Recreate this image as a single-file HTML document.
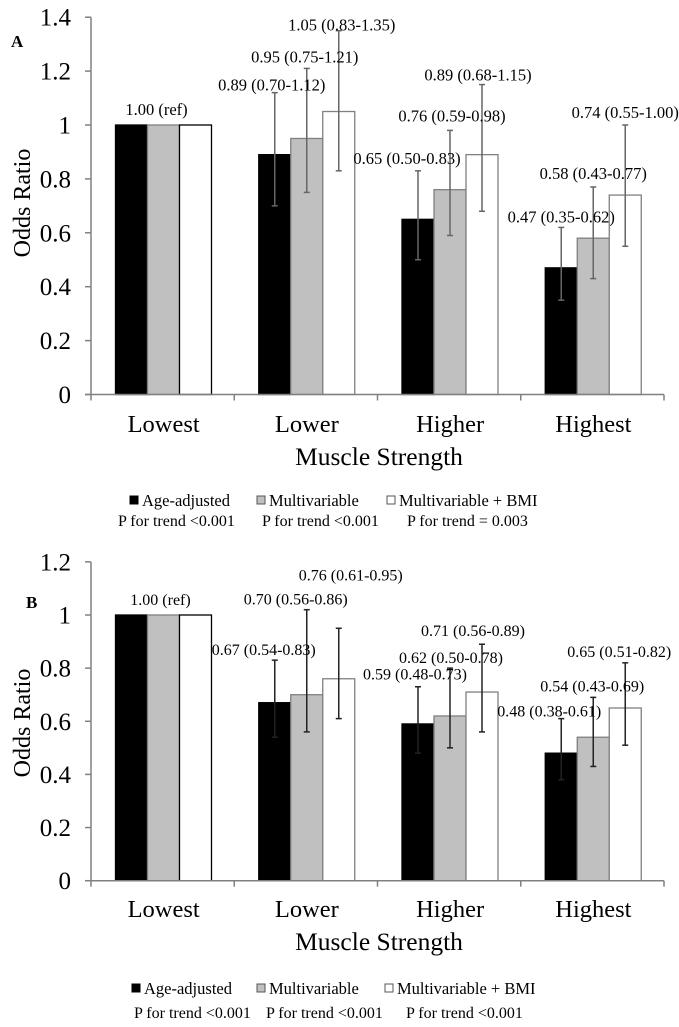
<!DOCTYPE html>
<html><head><meta charset="utf-8">
<style>
html,body{margin:0;padding:0;background:#fff;}
svg{display:block;font-family:"Liberation Serif","Times New Roman",serif;}
</style></head>
<body>
<svg id="chart" width="679" height="1027" viewBox="0 0 679 1027" xmlns="http://www.w3.org/2000/svg"></svg>
<script>
// ---- shared data ----
const categories = ["Lowest", "Lower", "Higher", "Highest"];
const seriesNames = ["Age-adjusted", "Multivariable", "Multivariable + BMI"];

// Panel A
const aAge = [1.00, 0.89, 0.65, 0.47];
const aMulti = [1.00, 0.95, 0.76, 0.58];
const aBmi = [1.00, 1.05, 0.89, 0.74];
const aAgeLo = [null, 0.70, 0.50, 0.35];
const aAgeHi = [null, 1.12, 0.83, 0.62];
const aMultiLo = [null, 0.75, 0.59, 0.43];
const aMultiHi = [null, 1.21, 0.98, 0.77];
const aBmiLo = [null, 0.83, 0.68, 0.55];
const aBmiHi = [null, 1.35, 1.15, 1.00];
const aTicks = [0, 0.2, 0.4, 0.6, 0.8, 1, 1.2, 1.4];
const aTickLabels = ["0", "0.2", "0.4", "0.6", "0.8", "1", "1.2", "1.4"];
const aLabels = [
  ["1.00 (ref)", "0.89 (0.70-1.12)", "0.65 (0.50-0.83)", "0.47 (0.35-0.62)"],
  [null, "0.95 (0.75-1.21)", "0.76 (0.59-0.98)", "0.58 (0.43-0.77)"],
  [null, "1.05 (0.83-1.35)", "0.89 (0.68-1.15)", "0.74 (0.55-1.00)"]
];
const aTrend = ["P for trend <0.001", "P for trend <0.001", "P for trend = 0.003"];

// Panel B
const bAge = [1.00, 0.67, 0.59, 0.48];
const bMulti = [1.00, 0.70, 0.62, 0.54];
const bBmi = [1.00, 0.76, 0.71, 0.65];
const bAgeLo = [null, 0.54, 0.48, 0.38];
const bAgeHi = [null, 0.83, 0.73, 0.61];
const bMultiLo = [null, 0.56, 0.50, 0.43];
const bMultiHi = [null, 1.02, 0.80, 0.69];
const bBmiLo = [null, 0.61, 0.56, 0.51];
const bBmiHi = [null, 0.95, 0.89, 0.82];
const bTicks = [0, 0.2, 0.4, 0.6, 0.8, 1, 1.2];
const bTickLabels = ["0", "0.2", "0.4", "0.6", "0.8", "1", "1.2"];
const bLabels = [
  ["1.00 (ref)", "0.67 (0.54-0.83)", "0.59 (0.48-0.73)", "0.48 (0.38-0.61)"],
  [null, "0.70 (0.56-0.86)", "0.62 (0.50-0.78)", "0.54 (0.43-0.69)"],
  [null, "0.76 (0.61-0.95)", "0.71 (0.56-0.89)", "0.65 (0.51-0.82)"]
];
const bTrend = ["P for trend <0.001", "P for trend <0.001", "P for trend <0.001"];

const NS = "http://www.w3.org/2000/svg";
const svg = document.getElementById("chart");
function mk(tag, attrs, parent, text) {
  const e = document.createElementNS(NS, tag);
  for (const k in attrs) e.setAttribute(k, attrs[k]);
  if (text !== undefined) e.textContent = text;
  (parent || svg).appendChild(e);
  return e;
}

function panel(cfg) {
  const g = mk("g", {});
  
  
  const x0 = 91, catW = 143.25, barW = 32;
  const y = v => cfg.y0 - v * cfg.unit;
  const barX = (ci, si) => x0 + ci * catW + 24.5 + si * barW;
  const values = [cfg.age, cfg.multi, cfg.bmi];
  const los = [cfg.ageLo, cfg.multiLo, cfg.bmiLo];
  const his = [cfg.ageHi, cfg.multiHi, cfg.bmiHi];
  const fills = ["#000", "#c0c0c0", "#fff"];
  const strokes = ["#000", "#808080", "#808080"];
  const sKeys = ["age-adjusted", "multivariable", "multivariable-bmi"];

  for (let s = 0; s < 3; s++) {
    for (let c = 0; c < categories.length; c++) {
      const v = values[s][c];
      const r = mk("rect", {x: barX(c, s), y: y(v), width: barW, height: y(0) - y(v),
        fill: fills[s], stroke: (c === 0 && s === 2) ? "#000" : strokes[s], "stroke-width": 1.3}, g);
      
      
    }
  }
  for (let s = 0; s < 3; s++) {
    for (let c = 0; c < categories.length; c++) {
      if (los[s][c] === null) continue;
      const cx = barX(c, s) + barW / 2;
      const eg = mk("g", {stroke: cfg.errColor, "stroke-width": 1.5}, g);
      
      
      mk("line", {x1: cx, x2: cx, y1: y(los[s][c]), y2: y(his[s][c])}, eg);
      mk("line", {x1: cx - 3, x2: cx + 3, y1: y(los[s][c]), y2: y(los[s][c])}, eg);
      mk("line", {x1: cx - 3, x2: cx + 3, y1: y(his[s][c]), y2: y(his[s][c])}, eg);
    }
  }
  for (let s = 0; s < 3; s++) {
    for (let c = 0; c < categories.length; c++) {
      const txt = cfg.labels[s][c];
      if (!txt) continue;
      const top = his[s][c] === null ? values[s][c] : his[s][c];
      const sIdx = c === 0 ? 1 : s;
      const cx = barX(c, sIdx) + barW / 2 + cfg.ldx[s][c];
      const t = mk("text", {x: cx, y: y(top) + cfg.ldy[s][c], "text-anchor": "middle",
        "font-size": cfg.lfs, fill: "#000"}, g, txt);
      
      
    }
  }
  const yAxis = mk("g", {}, g);
  
  
  const yTop = y(cfg.ticks[cfg.ticks.length - 1]);
  mk("line", {x1: x0, x2: x0, y1: yTop, y2: y(0), stroke: "#808080", "stroke-width": 1.5}, yAxis);
  cfg.ticks.forEach((tv, i) => {
    mk("line", {x1: x0 - 6, x2: x0, y1: y(tv), y2: y(tv), stroke: "#808080", "stroke-width": 1.5}, yAxis);
    const t = mk("text", {x: 71, y: y(tv) + 8.5, "text-anchor": "end", "font-size": 25}, yAxis, cfg.tickLabels[i]);
    
    
  });
  const yt = mk("text", {x: 0, y: 0, "text-anchor": "middle", "font-size": 24,
    transform: "translate(30," + cfg.yTitleY + ") rotate(-90)"}, g, "Odds Ratio");
  
  
  const xAxis = mk("g", {}, g);
  
  
  mk("line", {x1: x0 - 6, x2: x0 + 4 * catW, y1: y(0), y2: y(0), stroke: "#808080", "stroke-width": 1.5}, xAxis);
  for (let c = 0; c <= categories.length; c++) {
    mk("line", {x1: x0 + c * catW, x2: x0 + c * catW, y1: y(0), y2: y(0) + 6, stroke: "#808080", "stroke-width": 1.5}, xAxis);
  }
  categories.forEach((cat, c) => {
    const t = mk("text", {x: x0 + c * catW + catW / 2 + 1, y: cfg.catY, "text-anchor": "middle", "font-size": 24.5}, xAxis, cat);
    
    
  });
  const xt = mk("text", {x: 379, y: cfg.catY + 33, "text-anchor": "middle", "font-size": 25.5}, g, "Muscle Strength");
  
  
  const pl = mk("text", {x: cfg.letterX, y: cfg.letterY, "font-size": 17, "font-weight": "bold"}, g, cfg.letter);
  
  
  const lg = mk("g", {}, g);
  
  
  for (let s = 0; s < 3; s++) {
    const it = mk("g", {}, lg);
    
    
    mk("rect", {x: cfg.legSq[s], y: cfg.legY - 10, width: 8, height: 8, fill: fills[s],
      stroke: s === 0 ? "#000" : "#555", "stroke-width": 1}, it);
    mk("text", {x: cfg.legSq[s] + 12, y: cfg.legY, "font-size": 16.5}, it, seriesNames[s]);
    const pt = mk("text", {x: cfg.trendX[s], y: cfg.legY + cfg.trendDy, "font-size": 16}, lg, cfg.trend[s]);
    
    
  }
}

panel({
  name: "panel-a", letter: "A", letterX: 11, letterY: 47,
  y0: 394.5, unit: 269.5, ticks: aTicks, tickLabels: aTickLabels,
  age: aAge, multi: aMulti, bmi: aBmi,
  ageLo: aAgeLo, ageHi: aAgeHi, multiLo: aMultiLo, multiHi: aMultiHi, bmiLo: aBmiLo, bmiHi: aBmiHi,
  labels: aLabels, lfs: 16.5, errColor: "#666",
  ldx: [[-7, -3, -11, 0], [0, -2, 2, 0], [0, 3, -4, 0]],
  ldy: [[-10, -2, -7, -5], [0, -6, -9, -8], [0, 0, -4, -7]],
  yTitleY: 203, catY: 432,
  legY: 506, legSq: [130, 257, 387], trend: aTrend, trendX: [118, 262, 407], trendDy: 20
});
panel({
  name: "panel-b", letter: "B", letterX: 26, letterY: 608,
  y0: 880.7, unit: 265.7, ticks: bTicks, tickLabels: bTickLabels,
  age: bAge, multi: bMulti, bmi: bBmi,
  ageLo: bAgeLo, ageHi: bAgeHi, multiLo: bMultiLo, multiHi: bMultiHi, bmiLo: bBmiLo, bmiHi: bBmiHi,
  labels: bLabels, lfs: 16, errColor: "#222",
  ldx: [[-3, -11, -3, -12], [0, -11, 1, -1], [0, 12, -9, -6]],
  ldy: [[-10, -5, -7, -2], [0, -5, -5, -6], [0, -48, -8, -6]],
  yTitleY: 723, catY: 917,
  legY: 994, legSq: [132, 257, 385], trend: bTrend, trendX: [134, 266, 406], trendDy: 24
});
</script>
</body></html>
